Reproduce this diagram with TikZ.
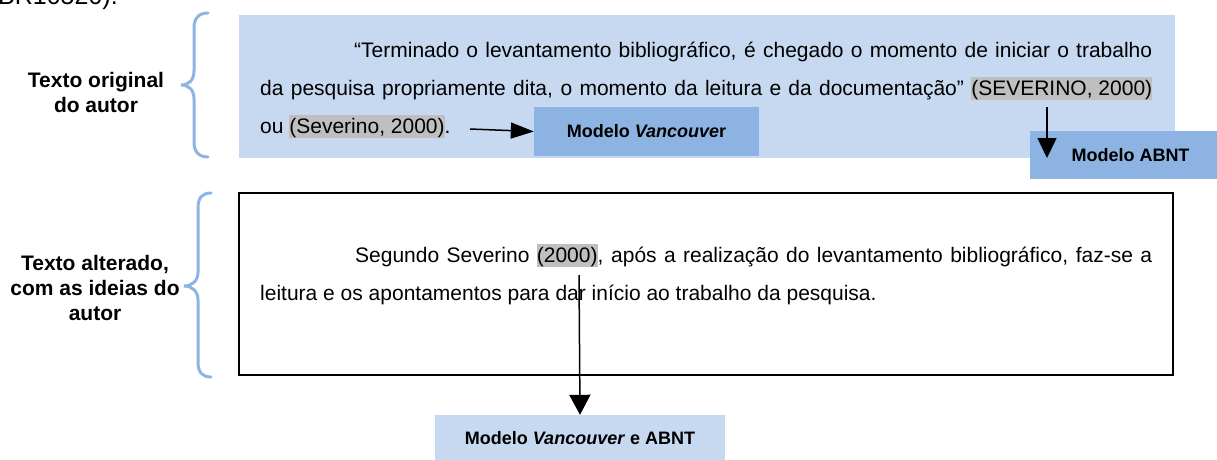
\documentclass[tikz,border=0pt]{standalone}
\usepackage{fontspec}
\setmainfont{Liberation Sans}
\usetikzlibrary{arrows.meta}
\definecolor{lightblue}{HTML}{C6D9F1}
\definecolor{midblue}{HTML}{8DB3E2}
\definecolor{braceblue}{HTML}{8EB4E3}
\definecolor{hlgray}{HTML}{BFBFBF}
\newcommand{\hlt}[1]{{\setlength{\fboxsep}{0pt}\colorbox{hlgray}{\rule[-5pt]{0pt}{23pt}#1}}}
\begin{document}
\begin{tikzpicture}[x=1pt,y=-1pt,
  bodytext/.style={anchor=base west,inner sep=0pt,font=\fontsize{21}{25}\selectfont},
  sidelabel/.style={align=center,inner sep=0pt,font=\fontsize{21}{25}\selectfont\bfseries},
  modelbox/.style={inner sep=0pt,font=\fontsize{18}{22}\selectfont\bfseries},
  bracepath/.style={draw=braceblue,line width=3pt,line cap=round},
  arr/.style={draw=black,line width=1.5pt,-{Triangle[length=20pt,width=19pt]}}
]
\useasboundingbox (0,0) rectangle (1217,460);
\begin{scope}
\clip (0,0) rectangle (1217,460);
\node[anchor=base west,inner sep=0pt,font=\fontsize{25}{28}\selectfont] (frag) at (-2,5) {BR10520).};
\end{scope}

% top box
\node[fill=lightblue,inner sep=0pt,minimum width=936pt,minimum height=143pt] (topbox) at (707,86.5) {};
\node[bodytext] (l1) at (354,57) {\makebox[798pt][s]{“Terminado o levantamento bibliográfico, é chegado o momento de iniciar o trabalho}};
\node[bodytext] (l2) at (260,95) {\makebox[892pt][s]{da pesquisa propriamente dita, o momento da leitura e da documentação” \hlt{(SEVERINO, 2000)}}};
\node[bodytext] (l3) at (260,133) {ou \hlt{(Severino, 2000)}.};

\node[modelbox,fill=midblue,minimum width=225pt,minimum height=49pt] (mv) at (646.5,131.5) {Modelo \textit{Vancouve}r};
\node[modelbox,fill=midblue,minimum width=187pt,minimum height=48pt] (abnt) at (1123.5,155) {\hspace*{14pt}Modelo ABNT};

\coordinate (s1) at (470,129);
\draw[arr,-{Triangle[length=23pt,width=16pt]}] (s1) -- (mv.west);
\coordinate (s2) at (1047,107);
\coordinate (e2) at (1047,158);
\draw[arr] (s2) -- (e2);

% bottom box
\node[draw=black,line width=1.5pt,inner sep=0pt,minimum width=934pt,minimum height=182pt] (botbox) at (706,284) {};
\node[bodytext] (m1) at (355,262) {\makebox[797pt][s]{Segundo Severino \hlt{(2000)}, após a realização do levantamento bibliográfico, faz-se a}};
\node[bodytext] (m2) at (260,300) {leitura e os apontamentos para dar início ao trabalho da pesquisa.};

\node[modelbox,fill=lightblue,minimum width=290pt,minimum height=46pt] (mvab) at (580,438) {Modelo \textit{Vancouver} e ABNT};
\coordinate (s3) at (579,275);
\draw[arr,-{Triangle[length=20pt,width=21pt]}] (s3) -- (mvab.north);

% side labels
\node[sidelabel] (lab1) at (96,92.5) {Texto original\\do autor};
\node[sidelabel] (lab2) at (95,287.5) {Texto alterado,\\com as ideias do\\autor};

% braces
\path[bracepath] (208,13) .. controls (199,13) and (194,18) .. (194,28) -- (194,71)
  .. controls (194,80) and (189,85) .. (181,85)
  .. controls (189,85) and (194,90) .. (194,99) -- (194,142)
  .. controls (194,152) and (199,157) .. (208,157);
\path[bracepath] (211,193) .. controls (202,193) and (198,198) .. (198,208) -- (198,272)
  .. controls (198,281) and (192,286) .. (184,286)
  .. controls (192,286) and (198,291) .. (198,300) -- (198,362)
  .. controls (198,372) and (202,377) .. (211,377);
\end{tikzpicture}
\end{document}
